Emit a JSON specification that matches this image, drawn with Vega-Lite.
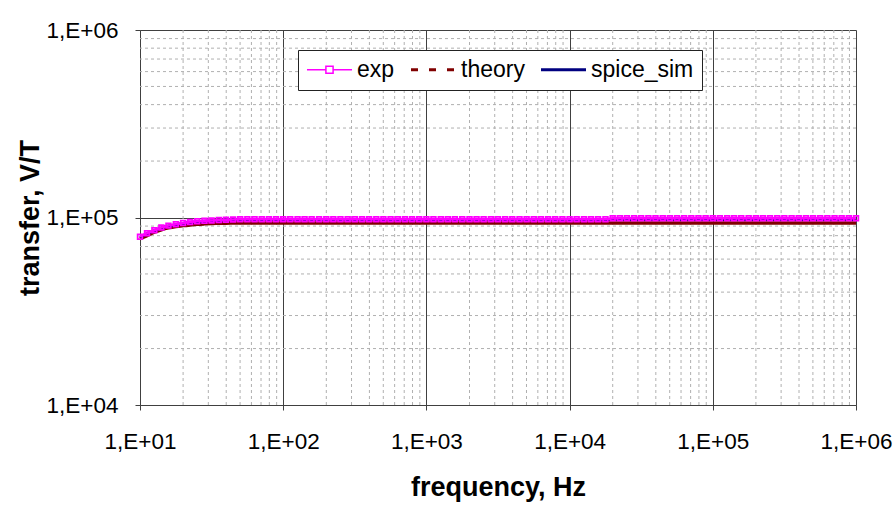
{
  "$schema": "https://vega.github.io/schema/vega-lite/v6.json",
  "width": 716,
  "height": 375,
  "autosize": {"type": "none"},
  "padding": {"left": 140, "top": 30, "right": 37, "bottom": 102},
  "background": "white",
  "config": {
    "font": "Liberation Sans",
    "view": {"stroke": null},
    "axis": {"labelFont": "Liberation Sans", "titleFont": "Liberation Sans", "labelColor": "black", "titleColor": "black"}
  },
  "datasets": {
    "gridx": [{"g":20},{"g":30},{"g":40},{"g":50},{"g":60},{"g":70},{"g":80},{"g":90},
      {"g":200},{"g":300},{"g":400},{"g":500},{"g":600},{"g":700},{"g":800},{"g":900},
      {"g":2000},{"g":3000},{"g":4000},{"g":5000},{"g":6000},{"g":7000},{"g":8000},{"g":9000},
      {"g":20000},{"g":30000},{"g":40000},{"g":50000},{"g":60000},{"g":70000},{"g":80000},{"g":90000},
      {"g":200000},{"g":300000},{"g":400000},{"g":500000},{"g":600000},{"g":700000},{"g":800000},{"g":900000}],
    "gridy": [{"g":20000},{"g":30000},{"g":40000},{"g":50000},{"g":60000},{"g":70000},{"g":80000},{"g":90000},
      {"g":200000},{"g":300000},{"g":400000},{"g":500000},{"g":600000},{"g":700000},{"g":800000},{"g":900000}],
    "theory": [{"f":10,"v":77000},{"f":11.2,"v":80000},{"f":12.6,"v":83500},{"f":14.1,"v":86000},{"f":15.8,"v":88000},
      {"f":17.8,"v":89500},{"f":20,"v":90500},{"f":22.4,"v":91300},{"f":25.1,"v":92000},{"f":28.2,"v":92500},
      {"f":31.6,"v":92900},{"f":35.5,"v":93100},{"f":39.8,"v":93300},{"f":44.7,"v":93400},{"f":50.1,"v":93500},
      {"f":100,"v":93500},{"f":1000,"v":93500},{"f":10000,"v":93500},{"f":100000,"v":93500},{"f":1000000,"v":93500}],
    "spice": [{"f":10,"v":78500},{"f":11.2,"v":82000},{"f":12.6,"v":85000},{"f":14.1,"v":88000},{"f":15.8,"v":90000},
      {"f":17.8,"v":91500},{"f":20,"v":93000},{"f":22.4,"v":94000},{"f":25.1,"v":95000},{"f":28.2,"v":95500},
      {"f":31.6,"v":96000},{"f":35.5,"v":96500},{"f":39.8,"v":97000},{"f":44.7,"v":97300},{"f":50.1,"v":97500},
      {"f":100,"v":97500},{"f":1000,"v":97500},{"f":10000,"v":97500},{"f":100000,"v":97500},{"f":1000000,"v":97500}],
    "exp": [{"f":10,"v":79000},{"f":11.2,"v":82500},{"f":12.6,"v":85500},{"f":14.1,"v":88500},{"f":15.8,"v":90500},
      {"f":17.8,"v":92000},{"f":20,"v":93500},{"f":22.4,"v":94500},{"f":25.1,"v":95500},{"f":28.2,"v":96000},
      {"f":31.6,"v":96500},{"f":35.5,"v":97000},{"f":39.8,"v":97300},{"f":44.7,"v":97600},{"f":50.1,"v":97800},
      {"f":56.2,"v":97800},{"f":63.1,"v":97800},{"f":70.8,"v":97800},{"f":79.4,"v":97800},{"f":89.1,"v":97800},
      {"f":100,"v":97800},{"f":112,"v":97800},{"f":126,"v":97800},{"f":141,"v":97800},{"f":158,"v":97800},
      {"f":178,"v":97800},{"f":200,"v":97800},{"f":224,"v":97800},{"f":251,"v":97800},{"f":282,"v":97800},
      {"f":316,"v":97800},{"f":355,"v":97800},{"f":398,"v":97800},{"f":447,"v":97800},{"f":501,"v":97800},
      {"f":562,"v":97800},{"f":631,"v":97800},{"f":708,"v":97800},{"f":794,"v":97800},{"f":891,"v":97800},
      {"f":1000,"v":97800},{"f":1120,"v":97800},{"f":1260,"v":97800},{"f":1410,"v":97800},{"f":1580,"v":97800},
      {"f":1780,"v":97800},{"f":2000,"v":97800},{"f":2240,"v":97800},{"f":2510,"v":97800},{"f":2820,"v":97800},
      {"f":3160,"v":97800},{"f":3550,"v":97800},{"f":3980,"v":97800},{"f":4470,"v":97800},{"f":5010,"v":97800},
      {"f":5620,"v":97800},{"f":6310,"v":97800},{"f":7080,"v":97800},{"f":7940,"v":97800},{"f":8910,"v":97800},
      {"f":10000,"v":97800},{"f":11200,"v":97800},{"f":12600,"v":97800},{"f":14100,"v":97800},{"f":15800,"v":97800},
      {"f":17800,"v":97800},{"f":20000,"v":99000},{"f":22400,"v":99000},{"f":25100,"v":99000},{"f":28200,"v":99000},
      {"f":31600,"v":99000},{"f":35500,"v":99000},{"f":39800,"v":99000},{"f":44700,"v":99000},{"f":50100,"v":99000},
      {"f":56200,"v":99000},{"f":63100,"v":99000},{"f":70800,"v":99000},{"f":79400,"v":99000},{"f":89100,"v":99000},
      {"f":100000,"v":99000},{"f":112000,"v":99000},{"f":126000,"v":99000},{"f":141000,"v":99000},{"f":158000,"v":99000},
      {"f":178000,"v":99000},{"f":200000,"v":99000},{"f":224000,"v":99000},{"f":251000,"v":99000},{"f":282000,"v":99000},
      {"f":316000,"v":99000},{"f":355000,"v":99000},{"f":398000,"v":99000},{"f":447000,"v":99000},{"f":501000,"v":99000},
      {"f":562000,"v":99000},{"f":631000,"v":99000},{"f":708000,"v":99000},{"f":794000,"v":99000},{"f":891000,"v":99000},
      {"f":1000000,"v":99000}]
  },
  "layer": [
    {
      "data": {"name": "gridx"},
      "mark": {"type": "rule", "color": "#b0b0b0", "strokeDash": [3, 3], "strokeWidth": 1},
      "encoding": {"x": {"field": "g", "type": "quantitative", "scale": {"type": "log", "domain": [10, 1000000]}}}
    },
    {
      "data": {"name": "gridy"},
      "mark": {"type": "rule", "color": "#b0b0b0", "strokeDash": [3, 3], "strokeWidth": 1},
      "encoding": {"y": {"field": "g", "type": "quantitative", "scale": {"type": "log", "domain": [10000, 1000000]}}}
    },
    {
      "data": {"name": "theory"},
      "mark": {"type": "line", "strokeWidth": 3.5, "interpolate": "monotone"},
      "encoding": {
        "x": {"field": "f", "type": "quantitative"},
        "y": {"field": "v", "type": "quantitative"},
        "color": {"datum": "theory"}
      }
    },
    {
      "data": {"name": "spice"},
      "mark": {"type": "line", "strokeWidth": 3, "interpolate": "monotone"},
      "encoding": {
        "x": {"field": "f", "type": "quantitative"},
        "y": {"field": "v", "type": "quantitative"},
        "color": {"datum": "spice_sim"}
      }
    },
    {
      "data": {"name": "exp"},
      "mark": {"type": "line", "strokeWidth": 2.5, "point": {"shape": "square", "filled": false, "size": 22, "strokeWidth": 1.8, "color": "#ff00ff"}},
      "encoding": {
        "x": {
          "field": "f", "type": "quantitative",
          "scale": {"type": "log", "domain": [10, 1000000]},
          "axis": {
            "values": [10, 100, 1000, 10000, 100000, 1000000],
            "labelExpr": "'1,E+0' + round(log(datum.value)/LN10)",
            "labelFontSize": 22.5, "labelPadding": 20, "tickSize": 5, "tickColor": "#404040",
            "labelFlush": false, "labelBound": false, "labelOverlap": false,
            "domainColor": "#404040", "gridColor": "#404040", "gridWidth": 1, "grid": true,
            "title": "frequency, Hz", "titleFontSize": 27, "titleFontWeight": "bold", "titlePadding": 22
          }
        },
        "y": {
          "field": "v", "type": "quantitative",
          "scale": {"type": "log", "domain": [10000, 1000000]},
          "axis": {
            "values": [10000, 100000, 1000000],
            "labelExpr": "'1,E+0' + round(log(datum.value)/LN10)",
            "labelFontSize": 22.5, "labelPadding": 17, "tickSize": 5, "tickColor": "#404040",
            "labelFlush": false, "labelBound": false, "labelOverlap": false,
            "domainColor": "#404040", "gridColor": "#404040", "gridWidth": 1, "grid": true,
            "title": "transfer, V/T", "titleFontSize": 27, "titleFontWeight": "bold", "titlePadding": 2
          }
        },
        "color": {
          "datum": "exp",
          "scale": {"domain": ["exp", "theory", "spice_sim"], "range": ["#ff00ff", "#800000", "#000080"]},
          "legend": {
            "title": null, "orient": "none", "legendX": 158, "legendY": 20, "direction": "horizontal",
            "labelFontSize": 23, "labelFont": "Liberation Sans", "labelColor": "black",
            "symbolType": "stroke", "symbolSize": 2025, "symbolStrokeWidth": 3,
            "symbolOffset": 12, "labelOffset": 16,
            "strokeColor": "#222222", "fillColor": "white", "padding": 8, "columnPadding": 10,
            "encode": {
              "symbols": {
                "update": {
                  "shape": {"signal": "datum.value === 'exp' ? 'M-1,0H-0.16M0.16,0H1M-0.16,-0.16H0.16V0.16H-0.16Z' : 'stroke'"},
                  "strokeWidth": {"signal": "datum.value === 'exp' ? 1.5 : 3"},
                  "strokeDash": {"signal": "datum.value === 'theory' ? [7, 11] : [1, 0]"},
                  "fill": {"value": "transparent"}
                }
              }
            }
          }
        }
      }
    }
  ]
}
